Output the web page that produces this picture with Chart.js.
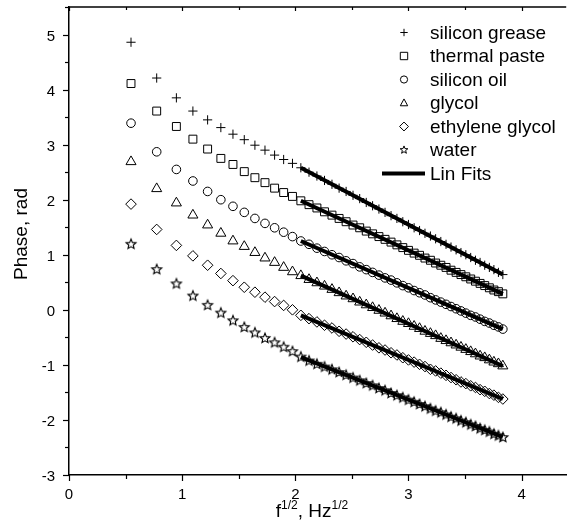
<!DOCTYPE html>
<html>
<head>
<meta charset="utf-8">
<script src="https://cdn.jsdelivr.net/npm/chart.js@4.4.1/dist/chart.umd.min.js"></script>
<style>
  body { margin: 0; background: #fff; }
  #wrap { width: 573px; height: 531px; }
</style>
</head>
<body>
<div id="wrap"><canvas id="phaseChart"></canvas></div>
<script>
// square root of frequency, Hz^1/2
const fx = [0.548, 0.775, 0.949, 1.095, 1.225, 1.342, 1.449, 1.549, 1.643, 1.732,
  1.817, 1.897, 1.975, 2.049, 2.121, 2.191, 2.258, 2.324, 2.387, 2.449,
  2.510, 2.569, 2.627, 2.683, 2.739, 2.793, 2.846, 2.898, 2.950, 3.000,
  3.050, 3.098, 3.146, 3.194, 3.240, 3.286, 3.332, 3.376, 3.421, 3.464,
  3.507, 3.550, 3.592, 3.633, 3.674, 3.715, 3.755, 3.795, 3.834];

// phase, rad
const siliconGrease = [4.86, 4.21, 3.85, 3.61, 3.45, 3.31, 3.19, 3.09, 2.99, 2.90,
  2.81, 2.73, 2.66, 2.58, 2.50, 2.43, 2.35, 2.28, 2.21, 2.15,
  2.08, 2.02, 1.95, 1.89, 1.83, 1.77, 1.71, 1.66, 1.60, 1.55,
  1.49, 1.44, 1.39, 1.34, 1.29, 1.24, 1.19, 1.14, 1.09, 1.04,
  1.00, 0.95, 0.90, 0.86, 0.81, 0.77, 0.73, 0.68, 0.64];
const thermalPaste = [4.11, 3.61, 3.33, 3.10, 2.92, 2.75, 2.64, 2.51, 2.40, 2.31,
  2.21, 2.13, 2.06, 1.98, 1.91, 1.85, 1.78, 1.72, 1.66, 1.60,
  1.54, 1.49, 1.43, 1.38, 1.33, 1.28, 1.23, 1.18, 1.13, 1.08,
  1.03, 0.99, 0.94, 0.90, 0.85, 0.81, 0.77, 0.72, 0.68, 0.64,
  0.60, 0.56, 0.52, 0.48, 0.44, 0.40, 0.36, 0.33, 0.29];
const siliconOil = [3.39, 2.87, 2.55, 2.34, 2.15, 2.00, 1.88, 1.77, 1.66, 1.57,
  1.49, 1.41, 1.33, 1.25, 1.19, 1.12, 1.06, 1.00, 0.95, 0.89,
  0.84, 0.78, 0.73, 0.68, 0.63, 0.58, 0.54, 0.49, 0.44, 0.40,
  0.35, 0.31, 0.27, 0.22, 0.18, 0.14, 0.10, 0.06, 0.02, -0.02,
  -0.06, -0.10, -0.13, -0.17, -0.21, -0.24, -0.28, -0.31, -0.35];
const glycol = [2.69, 2.20, 1.94, 1.72, 1.54, 1.39, 1.25, 1.15, 1.04, 0.94,
  0.86, 0.77, 0.69, 0.62, 0.55, 0.49, 0.43, 0.37, 0.31, 0.25,
  0.20, 0.14, 0.09, 0.04, -0.01, -0.06, -0.11, -0.16, -0.21, -0.25,
  -0.30, -0.34, -0.39, -0.43, -0.47, -0.52, -0.56, -0.60, -0.64, -0.68,
  -0.72, -0.76, -0.80, -0.84, -0.87, -0.91, -0.95, -0.98, -1.02];
const ethyleneGlycol = [1.92, 1.46, 1.17, 0.98, 0.81, 0.66, 0.53, 0.41, 0.32, 0.23,
  0.15, 0.08, 0.00, -0.10, -0.16, -0.22, -0.28, -0.33, -0.39, -0.44,
  -0.49, -0.54, -0.59, -0.64, -0.69, -0.73, -0.78, -0.82, -0.87, -0.91,
  -0.95, -0.99, -1.03, -1.08, -1.11, -1.15, -1.19, -1.23, -1.27, -1.31,
  -1.34, -1.38, -1.41, -1.45, -1.48, -1.52, -1.55, -1.59, -1.62];
const water = [1.20, 0.74, 0.48, 0.26, 0.09, -0.05, -0.19, -0.31, -0.41, -0.51,
  -0.59, -0.67, -0.75, -0.85, -0.92, -0.98, -1.03, -1.08, -1.13, -1.18,
  -1.23, -1.28, -1.33, -1.37, -1.42, -1.46, -1.51, -1.55, -1.59, -1.63,
  -1.67, -1.71, -1.75, -1.79, -1.83, -1.86, -1.90, -1.94, -1.97, -2.01,
  -2.04, -2.08, -2.11, -2.15, -2.18, -2.21, -2.25, -2.28, -2.31];

// linear fits over the high frequency part
const fitX = [2.049, 3.834];
const fitGrease = [2.58, 0.64];
const fitPaste = [1.98, 0.29];
const fitOil = [1.25, -0.35];
const fitGlycol = [0.62, -1.02];
const fitEthylene = [-0.10, -1.62];
const fitWater = [-0.86, -2.31];

const xTicks = [0, 0.5, 1, 1.5, 2, 2.5, 3, 3.5, 4];

const FONT = "'Liberation Sans', Arial, sans-serif";

// outlined five point star for the water series
function starPath(ctx, cx, cy, ro, ri) {
  ctx.beginPath();
  for (let i = 0; i < 10; i++) {
    const r = i % 2 ? ri : ro;
    const a = -Math.PI / 2 + i * Math.PI / 5;
    const px = cx + r * Math.cos(a), py = cy + r * Math.sin(a);
    i ? ctx.lineTo(px, py) : ctx.moveTo(px, py);
  }
  ctx.closePath();
}
function makeStar(ro) {
  const c = document.createElement('canvas');
  const s = Math.ceil(ro * 2 + 3);
  c.width = s; c.height = s;
  const g = c.getContext('2d');
  g.strokeStyle = '#000';
  g.lineWidth = 1.1;
  starPath(g, s / 2, s / 2 + 0.5, ro, ro * 0.45);
  g.stroke();
  return c;
}
const starImg = makeStar(5.2);

function pts(ys) {
  return ys.map((v, i) => ({ x: fx[i], y: v }));
}
function fitPts(ys) {
  return ys.map((v, i) => ({ x: fitX[i], y: v }));
}

const series = [
  { label: 'silicon grease', data: siliconGrease, style: 'cross', r: 4.6 },
  { label: 'thermal paste', data: thermalPaste, style: 'rect', r: 5.6 },
  { label: 'silicon oil', data: siliconOil, style: 'circle', r: 4.3 },
  { label: 'glycol', data: glycol, style: 'triangle', r: 5.8 },
  { label: 'ethylene glycol', data: ethyleneGlycol, style: 'rectRot', r: 5.3 },
  { label: 'water', data: water, style: starImg, r: 5 }
];
const fits = [fitGrease, fitPaste, fitOil, fitGlycol, fitEthylene, fitWater];

const datasets = [];
fits.forEach(f => datasets.push({
  label: 'Lin Fits',
  data: fitPts(f),
  showLine: true,
  borderColor: '#000',
  borderWidth: 4,
  pointRadius: 0,
  order: 0
}));
series.forEach(s => datasets.push({
  label: s.label,
  data: pts(s.data),
  pointStyle: s.style,
  pointRadius: s.r,
  pointBorderWidth: 1,
  pointBorderColor: '#000',
  pointBackgroundColor: 'rgba(0,0,0,0)',
  showLine: false,
  order: 1
}));

// legend symbols
function drawSym(ctx, style, x, y, r) {
  ctx.beginPath();
  if (style === 'cross') {
    ctx.moveTo(x - r, y); ctx.lineTo(x + r, y);
    ctx.moveTo(x, y - r); ctx.lineTo(x, y + r);
  } else if (style === 'rect') {
    ctx.rect(x - r, y - r, 2 * r, 2 * r);
  } else if (style === 'circle') {
    ctx.arc(x, y, r, 0, Math.PI * 2);
  } else if (style === 'triangle') {
    ctx.moveTo(x, y - r * 1.1);
    ctx.lineTo(x + r, y + r * 0.75);
    ctx.lineTo(x - r, y + r * 0.75);
    ctx.closePath();
  } else if (style === 'rectRot') {
    ctx.moveTo(x, y - r * 1.2); ctx.lineTo(x + r * 1.2, y);
    ctx.lineTo(x, y + r * 1.2); ctx.lineTo(x - r * 1.2, y);
    ctx.closePath();
  } else {
    starPath(ctx, x, y, r * 1.1, r * 0.46);
  }
  ctx.stroke();
}

const framePlugin = {
  id: 'frame',
  afterDraw(chart) {
    const { ctx, chartArea: a, scales: { x, y } } = chart;
    ctx.save();
    ctx.strokeStyle = '#000';
    ctx.fillStyle = '#000';
    ctx.lineWidth = 1.5;
    ctx.beginPath();
    ctx.moveTo(a.left - 0.75, a.top);
    ctx.lineTo(a.right, a.top);
    ctx.stroke();

    ctx.lineWidth = 1.2;
    x.ticks.forEach(t => {
      const px = Math.round(x.getPixelForValue(t.value)) + 0.5;
      const major = Number.isInteger(t.value);
      ctx.beginPath();
      ctx.moveTo(px, a.bottom);
      ctx.lineTo(px, a.bottom + (major ? 6 : 4));
      ctx.moveTo(px, a.top);
      ctx.lineTo(px, a.top + (major ? 4 : 3));
      ctx.stroke();
    });
    ctx.font = '15px ' + FONT;
    ctx.textAlign = 'right';
    ctx.textBaseline = 'middle';
    y.ticks.forEach(t => {
      const py = Math.round(y.getPixelForValue(t.value)) + 0.5;
      const major = Number.isInteger(t.value);
      ctx.beginPath();
      ctx.moveTo(a.left, py);
      ctx.lineTo(a.left - (major ? 6 : 4), py);
      ctx.stroke();
      if (major) ctx.fillText(String(t.value), 55, py + 1);
    });

    // axis titles
    ctx.textBaseline = 'alphabetic';
    ctx.textAlign = 'left';
    const big = '19px ' + FONT, small = '12px ' + FONT;
    const parts = [['f', big, 0], ['1/2', small, -8], [', Hz', big, 0], ['1/2', small, -8]];
    let total = 0;
    parts.forEach(p => { ctx.font = p[1]; total += ctx.measureText(p[0]).width; });
    let cx = 312 - total / 2;
    parts.forEach(p => {
      ctx.font = p[1];
      ctx.fillText(p[0], cx, 517 + p[2]);
      cx += ctx.measureText(p[0]).width;
    });

    ctx.save();
    ctx.translate(22, 234);
    ctx.rotate(-Math.PI / 2);
    ctx.font = big;
    ctx.textAlign = 'center';
    ctx.textBaseline = 'middle';
    ctx.fillText('Phase, rad', 0, 0);
    ctx.restore();

    // legend
    ctx.font = big;
    ctx.textAlign = 'left';
    ctx.textBaseline = 'middle';
    const rowY = i => 32.5 + i * 23.5;
    series.forEach((s, i) => {
      ctx.lineWidth = 1;
      const st = typeof s.style === 'string' ? s.style : 'star';
      drawSym(ctx, st, 404, rowY(i), st === 'circle' ? 3.6 : 3.7);
      ctx.fillText(s.label, 430, rowY(i) + 1);
    });
    const ly = rowY(6);
    ctx.lineWidth = 4;
    ctx.beginPath();
    ctx.moveTo(382, ly);
    ctx.lineTo(425, ly);
    ctx.stroke();
    ctx.fillText('Lin Fits', 430, ly + 1);
    ctx.restore();
  }
};

const ctx = document.getElementById('phaseChart').getContext('2d');
const phaseChart = new Chart(ctx, {
  type: 'scatter',
  data: { datasets },
  plugins: [framePlugin],
  options: {
    responsive: true,
    maintainAspectRatio: false,
    animation: false,
    layout: { padding: { top: 7, left: 0, right: 0, bottom: 0 } },
    plugins: {
      legend: { display: false },
      tooltip: { enabled: false }
    },
    scales: {
      x: {
        type: 'linear',
        min: 0,
        max: 4.394,
        afterBuildTicks: s => { s.ticks = xTicks.map(v => ({ value: v })); },
        afterFit: s => { s.height = 56; },
        grid: { display: false, drawTicks: false },
        border: { display: true, color: '#000', width: 1.5 },
        ticks: {
          autoSkip: false,
          maxRotation: 0,
          padding: 11,
          color: '#000',
          font: { family: FONT, size: 15 },
          callback: v => Number.isInteger(v) ? v : ''
        }
      },
      y: {
        type: 'linear',
        min: -3,
        max: 5.5,
        afterFit: s => { s.width = 69; },
        grid: { display: false, drawTicks: false },
        border: { display: true, color: '#000', width: 1.5 },
        ticks: {
          stepSize: 0.5,
          autoSkip: false,
          display: false
        }
      }
    }
  }
});
</script>
</body>
</html>
